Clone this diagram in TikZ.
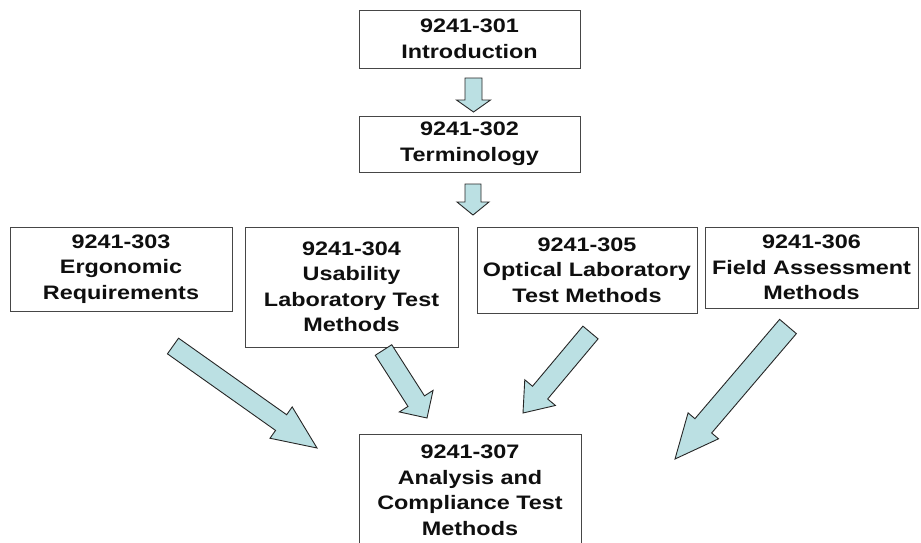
\documentclass[tikz,border=0pt]{standalone}
\usepackage{fontspec}
\setmainfont[FakeStretch=1.2]{Liberation Sans}
\usepackage{xcolor}
\usetikzlibrary{calc}

\definecolor{boxgray}{RGB}{70,70,70}
\definecolor{arrowcyan}{RGB}{187,224,227}
\definecolor{inkblack}{RGB}{15,15,15}

\newcommand\blockarrow[5]{%
	\coordinate (hb) at ($(#2)!#5!(#1)$);
	\draw[flow] ($(#1)!#3!90:(#2)$) -- ($(hb)!#3!-90:(#1)$) -- ($(hb)!#4!-90:(#1)$)
		-- (#2) -- ($(hb)!#4!90:(#1)$) -- ($(hb)!#3!90:(#1)$) -- ($(#1)!#3!-90:(#2)$) -- cycle;
}

\begin{document}
\begin{tikzpicture}[
			x=1pt, y=-1pt,
			docbox/.style={draw=boxgray, line width=0.9pt, fill=white, align=center,
					text=inkblack, inner sep=0pt,
					font=\bfseries\fontsize{19.5}{25.5}\selectfont},
			flow/.style={draw=black!85, fill=arrowcyan, line width=0.9pt, line join=miter}
		]
		\useasboundingbox (0,0) rectangle (921,542);
		\clip (0,0) rectangle (921,542);
		\node[docbox, minimum width=221pt, minimum height=58pt] (intro) at (469.5,39) {9241-301\\Introduction};
		\node[docbox, minimum width=221pt, minimum height=56pt] (term) at (469.5,144) {9241-302\\Terminology};
		\node[docbox, minimum width=222pt, minimum height=84pt] (ergo) at (121,269) {9241-303\\Ergonomic\\Requirements};
		\node[docbox, minimum width=213pt, minimum height=120pt] (usab) at (351.5,287) {9241-304\\Usability\\Laboratory Test\\Methods};
		\node[docbox, minimum width=220pt, minimum height=86pt] (optic) at (587,270) {9241-305\\Optical Laboratory\\Test Methods};
		\node[docbox, minimum width=213pt, minimum height=81pt] (field) at (811.5,267.5) {9241-306\\Field Assessment\\Methods};
		\node[docbox, minimum width=222pt, minimum height=113pt] (analysis) at (470,490.5) {9241-307\\Analysis and\\Compliance Test\\Methods};

		\coordinate (intro-out) at (473.5,78);
		\coordinate (term-in) at (473.5,112);
		\coordinate (term-out) at (473,184);
		\coordinate (row-in) at (473,215);
		\coordinate (ergo-out) at (173,346);
		\coordinate (ergo-tip) at (317,448);
		\coordinate (usab-out) at (383.5,350);
		\coordinate (usab-tip) at (427,418);
		\coordinate (optic-out) at (590.5,332.5);
		\coordinate (optic-tip) at (523,413);
		\coordinate (field-out) at (788,326.5);
		\coordinate (field-tip) at (675,459);

		\blockarrow{intro-out}{term-in}{8.5pt}{17pt}{12pt}
		\blockarrow{term-out}{row-in}{8pt}{16pt}{13pt}
		\blockarrow{ergo-out}{ergo-tip}{9.6pt}{19.2pt}{44pt}
		\blockarrow{usab-out}{usab-tip}{9.8pt}{20pt}{20pt}
		\blockarrow{optic-out}{optic-tip}{9.9pt}{20pt}{26.6pt}
		\blockarrow{field-out}{field-tip}{11pt}{20pt}{43.6pt}
	\end{tikzpicture}
\end{document}
